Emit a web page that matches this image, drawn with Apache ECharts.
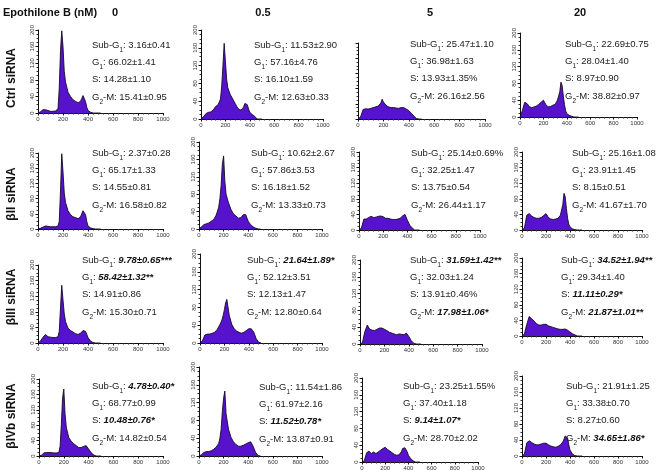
<!DOCTYPE html>
<html><head><meta charset="utf-8">
<script src="https://cdn.jsdelivr.net/npm/echarts@6/dist/echarts.min.js"></script>
<style>html,body{margin:0;padding:0;background:#fff}#c{width:661px;height:476px}</style>
</head><body><div id="c"></div>
<script>
// ---------- DATA ----------
const colHeaders = ['0', '0.5', '5', '20'];
const rowLabels = ['Ctrl siRNA', 'βII siRNA', 'βIII siRNA', 'βIVb siRNA'];
const headerTitle = 'Epothilone B (nM)';
// DNA content (x) sample positions shared by all histograms
const dnaX = [0,20,40,60,80,100,120,140,160,170,180,190,200,210,220,240,260,280,300,320,340,350,360,370,380,390,400,420,440,460,480,500];
// cell counts per panel (row = siRNA, col = dose)
const ctrl_0   = [0,3,8,8,6,4,4,5,10,60,150,198,160,100,75,50,40,32,28,25,28,35,42,40,28,14,6,2,0,0,0,0];
const ctrl_05  = [0,5,12,15,16,20,28,32,45,75,120,170,130,90,70,55,45,35,25,20,22,28,35,38,32,22,15,10,6,0,0,0];
const ctrl_5   = [0,5,25,27,26,28,30,32,34,36,42,52,45,40,36,32,30,30,29,28,30,31,30,28,26,24,22,15,8,1,0,0];
const ctrl_20  = [0,15,35,32,25,22,24,26,30,32,35,38,40,35,30,24,25,28,30,40,60,83,75,50,30,15,8,4,2,0,0,0];
const b2_0     = [0,2,5,8,7,6,6,6,8,20,100,198,150,95,70,48,38,32,30,27,32,40,48,52,38,20,8,3,1,0,0,0];
const b2_05    = [0,5,10,12,14,18,22,32,50,70,100,150,168,110,80,60,45,35,30,25,26,30,33,35,33,25,18,10,5,2,0,0];
const b2_5     = [0,5,28,28,32,35,32,33,35,35,36,35,34,32,30,30,28,27,27,28,30,33,36,38,40,35,25,12,5,0,0,0];
const b2_20    = [0,5,38,42,36,32,30,30,32,34,37,40,42,38,32,28,27,28,30,38,65,94,85,55,30,15,8,3,1,0,0,0];
const b3_0     = [0,5,15,22,16,15,14,14,16,30,90,148,110,75,55,38,32,28,24,22,25,28,32,33,30,22,14,5,1,0,0,0];
const b3_05    = [0,5,18,20,20,22,24,30,40,45,52,62,75,90,98,62,42,32,27,24,22,22,24,26,28,30,32,32,25,10,2,0];
const b3_5     = [0,3,30,45,35,33,32,35,38,40,38,36,35,33,32,28,26,24,22,24,23,22,22,24,26,22,18,8,2,0,0,0];
const b3_20    = [0,5,30,50,45,38,32,28,28,29,30,31,30,28,26,24,22,20,18,17,17,18,18,17,15,12,10,6,3,0,0,0];
const b4_0     = [0,2,8,9,9,9,8,8,9,25,80,150,174,110,75,48,38,32,27,22,22,24,25,27,27,24,18,9,3,0,0,0];
const b4_05    = [0,3,8,10,10,12,15,20,28,40,60,100,130,146,95,60,42,32,26,22,22,23,24,25,27,28,30,32,22,8,1,0];
const b4_5     = [0,3,22,26,20,24,20,24,28,30,32,34,35,32,30,26,22,18,16,17,25,32,36,34,30,24,16,8,3,0,0,0];
const b4_20    = [0,5,33,38,34,30,28,28,30,31,32,33,32,30,28,25,23,22,24,28,35,42,50,54,45,28,15,5,1,0,0,0];
const histograms = [ctrl_0, ctrl_05, ctrl_5, ctrl_20, b2_0, b2_05, b2_5, b2_20, b3_0, b3_05, b3_5, b3_20, b4_0, b4_05, b4_5, b4_20];
// cell-cycle percentages per panel
const subG1Vals = ['3.16±0.41','11.53±2.90','25.47±1.10','22.69±0.75','2.37±0.28','10.62±2.67','25.14±0.69%','25.16±1.08','9.78±0.65***','21.64±1.89*','31.59±1.42**','34.52±1.94**','4.78±0.40*','11.54±1.86','23.25±1.55%','21.91±1.25'];
const g1Vals    = ['66.02±1.41','57.16±4.76','36.98±1.63','28.04±1.40','65.17±1.33','57.86±3.53','32.25±1.47','23.91±1.45','58.42±1.32**','52.12±3.51','32.03±1.24','29.34±1.40','68.77±0.99','61.97±2.16','37.40±1.18','33.38±0.70'];
const sVals     = ['14.28±1.10','16.10±1.59','13.93±1.35%','8.97±0.90','14.55±0.81','16.18±1.52','13.75±0.54','8.15±0.51','14.91±0.86','12.13±1.47','13.91±0.46%','11.11±0.29*','10.48±0.76*','11.52±0.78*','9.14±1.07*','8.27±0.60'];
const g2mVals   = ['15.41±0.95','12.63±0.33','26.16±2.56','38.82±0.97','16.58±0.82','13.33±0.73','26.44±1.17','41.67±1.70','15.30±0.71','12.80±0.64','17.98±1.06*','21.87±1.01**','14.82±0.54','13.87±0.91','28.70±2.02','34.65±1.86*'];
// significance flags (1 = significant vs control)
const subG1Sig = [0,0,0,0, 0,0,0,0, 1,1,1,1, 1,0,0,0];
const g1Sig    = [0,0,0,0, 0,0,0,0, 1,0,0,0, 0,0,0,0];
const sSig     = [0,0,0,0, 0,0,0,0, 0,0,0,1, 1,1,1,0];
const g2mSig   = [0,0,0,0, 0,0,0,0, 0,0,1,1, 0,0,0,1];

// ---------- LAYOUT ----------
// [x of 0, x of 1000, y of 200, y of 0]
const panelBox = [
  [38,163,30,113],[201,323,30,119],[358,485,43,119],[520,637,33,117],
  [38,163,153,229],[199,322,142,229],[359,480,152,230],[522,642,152,230],
  [38,163,265,343],[200,322,254,343],[360,482,260,344],[522,642,258,336],
  [39,163,379,456],[199,322,367,456],[362,478,378,462],[522,642,376,456]
];
// [left x, first-line center y] of each annotation block
const textPos = [
  [92,45],[254,45],[410,44],[565,44],
  [92,153],[251,153],[411,153],[572,153],
  [82,260],[247,260],[410,260],[561,260],
  [92,386],[259,387],[403,386],[566,386]
];
const colHeaderX = [115, 263, 430, 580];
const rowLabelY = [78, 194, 297, 416];
const FILL = '#5612cc';
const FONT = 'Liberation Sans, Arial, sans-serif';
const LH = 17.3;

const grids = [], xAxes = [], yAxes = [], series = [], graphics = [];
histograms.forEach((h, i) => {
  const [l, r, t, b] = panelBox[i];
  grids.push({left: l, top: t, width: r - l, height: b - t, containLabel: false});
  xAxes.push({
    type: 'value', gridIndex: i, min: 0, max: 1000, interval: 200,
    axisLine: {show: true, lineStyle: {color: '#111', width: 1}},
    axisTick: {show: true, length: 2.5, lineStyle: {color: '#111'}},
    minorTick: {show: true, splitNumber: 5, length: 1.5, lineStyle: {color: '#333'}},
    splitLine: {show: false},
    axisLabel: {fontSize: 6, color: '#333', margin: 3, fontFamily: FONT, formatter: val => String(val)}
  });
  yAxes.push({
    type: 'value', gridIndex: i, min: 0, max: 200, interval: 40,
    axisLine: {show: true, onZero: false, lineStyle: {color: '#111', width: 1}},
    axisTick: {show: true, length: 2.5, lineStyle: {color: '#111'}},
    minorTick: {show: true, splitNumber: 4, length: 1.5, lineStyle: {color: '#333'}},
    splitLine: {show: false},
    axisLabel: {show: i !== 2, fontSize: 6, color: '#333', rotate: 90, margin: 3, fontFamily: FONT, formatter: val => String(val)}
  });
  series.push({
    type: 'line', xAxisIndex: i, yAxisIndex: i, symbol: 'none', silent: true,
    data: dnaX.map((x, k) => [x, h[k]]),
    lineStyle: {color: '#140a28', width: 0.9},
    areaStyle: {color: FILL, opacity: 1}
  });
  const v = (val, sig) => sig ? '{b|' + val + '}' : '{n|' + val + '}';
  const txt = [
    '{n|Sub-G}{s|1}{n|: }' + v(subG1Vals[i], subG1Sig[i]),
    '{n|G}{s|1}{n|: }' + v(g1Vals[i], g1Sig[i]),
    '{n|S: }' + v(sVals[i], sSig[i]),
    '{n|G}{s|2}{n|-M: }' + v(g2mVals[i], g2mSig[i])
  ].join('\n');
  graphics.push({
    type: 'text', x: textPos[i][0], y: textPos[i][1] - LH / 2, z: 10,
    style: {
      text: txt, textAlign: 'left', textVerticalAlign: 'top',
      rich: {
        n: {fontSize: 9.5, fontFamily: FONT, fill: '#1a1a1a', lineHeight: LH},
        b: {fontSize: 9.5, fontFamily: FONT, fill: '#111', fontWeight: 'bold', fontStyle: 'italic', lineHeight: LH},
        s: {fontSize: 6.5, fontFamily: FONT, fill: '#1a1a1a', verticalAlign: 'bottom', lineHeight: 10}
      }
    }
  });
});
graphics.push({type: 'text', x: 3, y: 13, style: {text: headerTitle, font: 'bold 11px ' + FONT, fill: '#111', textVerticalAlign: 'middle'}});
colHeaders.forEach((c, j) => graphics.push({type: 'text', x: colHeaderX[j], y: 13,
  style: {text: c, font: 'bold 11px ' + FONT, fill: '#111', textAlign: 'center', textVerticalAlign: 'middle'}}));
rowLabels.forEach((r, j) => graphics.push({type: 'text', x: 12, y: rowLabelY[j], rotation: Math.PI / 2,
  style: {text: r, font: 'bold 12px ' + FONT, fill: '#111', textAlign: 'center', textVerticalAlign: 'middle'}}));

const chart = echarts.init(document.getElementById('c'), null, {renderer: 'canvas'});
chart.setOption({
  animation: false, backgroundColor: '#fff',
  grid: grids, xAxis: xAxes, yAxis: yAxes, series: series, graphic: graphics
});
</script></body></html>
